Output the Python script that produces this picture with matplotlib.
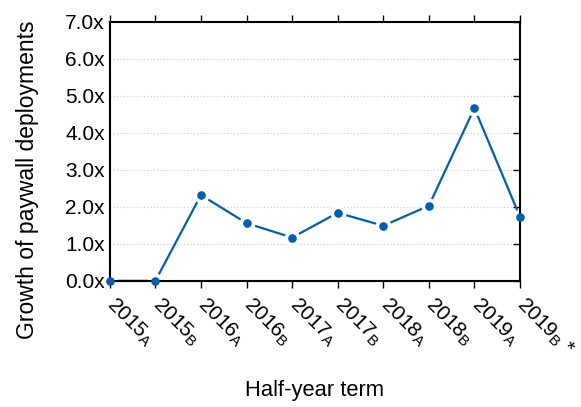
import numpy as np
import matplotlib
matplotlib.use("Agg")
import matplotlib.pyplot as plt

plt.rcParams['font.family'] = ['Liberation Sans', 'DejaVu Sans']
plt.rcParams['mathtext.fontset'] = 'custom'
plt.rcParams['mathtext.rm'] = 'Liberation Sans'
plt.rcParams['mathtext.it'] = 'Liberation Sans'

# Datos
terms = ["2015$_\\mathrm{A}$", "2015$_\\mathrm{B}$", "2016$_\\mathrm{A}$", "2016$_\\mathrm{B}$",
         "2017$_\\mathrm{A}$", "2017$_\\mathrm{B}$", "2018$_\\mathrm{A}$", "2018$_\\mathrm{B}$",
         "2019$_\\mathrm{A}$", "2019$_\\mathrm{B}$ *"]
growth = [0.0, 0.0, 2.32, 1.56, 1.17, 1.84, 1.49, 2.03, 4.67, 1.73]
yticks = [0, 1, 2, 3, 4, 5, 6, 7]

color = "#0060ad"
x = np.arange(len(terms))

fig = plt.figure(figsize=(5.81, 4.07), dpi=100)
ax = fig.add_subplot(111)
fig.subplots_adjust(left=0.189, right=0.895, top=0.946, bottom=0.310)

# línea, hueco blanco alrededor de los puntos, y puntos
ax.plot(x, growth, color=color, lw=1.6, zorder=1)
ax.plot(x, growth, 'o', color='white', ms=11.5, mew=0, zorder=1.5)
ax.plot(x, growth, 'o', color=color, ms=6.2, mew=0, zorder=3, clip_on=False)

ax.set_xlim(0, len(terms) - 1)
ax.set_ylim(0, 7)
ax.set_yticks(yticks)
ax.set_yticklabels(["%.1fx" % v for v in yticks], fontsize=15)
ax.set_xticks(x)
ax.set_xticklabels(terms, fontsize=15, rotation=-45, ha='left', va='center',
                   rotation_mode='anchor')

ax.yaxis.grid(True, ls=(0, (1, 2)), color='#c8c8c8', lw=0.8)
ax.set_axisbelow(True)

for s in ax.spines.values():
    s.set_linewidth(1.5)

ax.tick_params(axis='x', top=True, bottom=True, direction='out', length=5, width=1, pad=10)
ax.tick_params(axis='y', left=False, right=True, direction='in', length=5, width=1, pad=3.5)

ax.set_xlabel("Half-year term", fontsize=15.8)
ax.xaxis.set_label_coords(0.5, -0.385)
ax.set_ylabel("Growth of paywall deployments", fontsize=16.5)
ax.yaxis.set_label_coords(-0.173, 0.39)

plt.savefig("out.png", dpi=100)
